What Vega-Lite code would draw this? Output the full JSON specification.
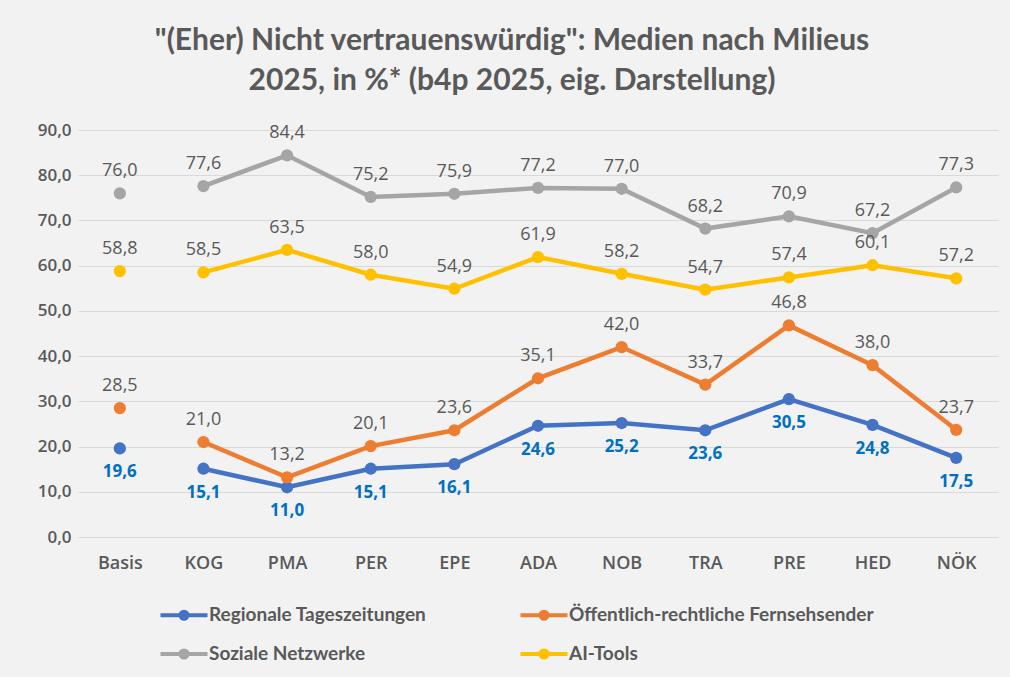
{
  "$schema": "https://vega.github.io/schema/vega-lite/v6.json",
  "width": 920,
  "height": 407,
  "autosize": {"type": "none"},
  "padding": {"left": 78, "top": 130, "right": 12, "bottom": 140},
  "background": "#F2F2F2",
  "title": {
    "text": ["\"(Eher) Nicht vertrauenswürdig\": Medien nach Milieus", "2025, in %* (b4p 2025, eig. Darstellung)"],
    "font": "Lato",
    "fontSize": 30,
    "fontWeight": "bold",
    "color": "#595959",
    "lineHeight": 40,
    "anchor": "middle",
    "frame": "group",
    "dx": -26,
    "offset": 25
  },
  "config": {
    "locale": {"number": {"decimal": ",", "thousands": ".", "grouping": [3], "currency": ["", " €"]}},
    "view": {"stroke": null},
    "axis": {"grid": true, "gridColor": "#D9D9D9", "gridWidth": 1, "domain": false, "ticks": false, "labelColor": "#595959", "labelFont": "Open Sans", "labelFontWeight": 600, "title": null}
  },
  "data": {
    "values": [
      {"m": "Basis", "s": "Regionale Tageszeitungen", "v": 19.6},
      {"m": "KOG", "s": "Regionale Tageszeitungen", "v": 15.1},
      {"m": "PMA", "s": "Regionale Tageszeitungen", "v": 11.0},
      {"m": "PER", "s": "Regionale Tageszeitungen", "v": 15.1},
      {"m": "EPE", "s": "Regionale Tageszeitungen", "v": 16.1},
      {"m": "ADA", "s": "Regionale Tageszeitungen", "v": 24.6},
      {"m": "NOB", "s": "Regionale Tageszeitungen", "v": 25.2},
      {"m": "TRA", "s": "Regionale Tageszeitungen", "v": 23.6},
      {"m": "PRE", "s": "Regionale Tageszeitungen", "v": 30.5},
      {"m": "HED", "s": "Regionale Tageszeitungen", "v": 24.8},
      {"m": "NÖK", "s": "Regionale Tageszeitungen", "v": 17.5},
      {"m": "Basis", "s": "Öffentlich-rechtliche Fernsehsender", "v": 28.5},
      {"m": "KOG", "s": "Öffentlich-rechtliche Fernsehsender", "v": 21.0},
      {"m": "PMA", "s": "Öffentlich-rechtliche Fernsehsender", "v": 13.2},
      {"m": "PER", "s": "Öffentlich-rechtliche Fernsehsender", "v": 20.1},
      {"m": "EPE", "s": "Öffentlich-rechtliche Fernsehsender", "v": 23.6},
      {"m": "ADA", "s": "Öffentlich-rechtliche Fernsehsender", "v": 35.1},
      {"m": "NOB", "s": "Öffentlich-rechtliche Fernsehsender", "v": 42.0},
      {"m": "TRA", "s": "Öffentlich-rechtliche Fernsehsender", "v": 33.7},
      {"m": "PRE", "s": "Öffentlich-rechtliche Fernsehsender", "v": 46.8},
      {"m": "HED", "s": "Öffentlich-rechtliche Fernsehsender", "v": 38.0},
      {"m": "NÖK", "s": "Öffentlich-rechtliche Fernsehsender", "v": 23.7},
      {"m": "Basis", "s": "Soziale Netzwerke", "v": 76.0},
      {"m": "KOG", "s": "Soziale Netzwerke", "v": 77.6},
      {"m": "PMA", "s": "Soziale Netzwerke", "v": 84.4},
      {"m": "PER", "s": "Soziale Netzwerke", "v": 75.2},
      {"m": "EPE", "s": "Soziale Netzwerke", "v": 75.9},
      {"m": "ADA", "s": "Soziale Netzwerke", "v": 77.2},
      {"m": "NOB", "s": "Soziale Netzwerke", "v": 77.0},
      {"m": "TRA", "s": "Soziale Netzwerke", "v": 68.2},
      {"m": "PRE", "s": "Soziale Netzwerke", "v": 70.9},
      {"m": "HED", "s": "Soziale Netzwerke", "v": 67.2},
      {"m": "NÖK", "s": "Soziale Netzwerke", "v": 77.3},
      {"m": "Basis", "s": "AI-Tools", "v": 58.8},
      {"m": "KOG", "s": "AI-Tools", "v": 58.5},
      {"m": "PMA", "s": "AI-Tools", "v": 63.5},
      {"m": "PER", "s": "AI-Tools", "v": 58.0},
      {"m": "EPE", "s": "AI-Tools", "v": 54.9},
      {"m": "ADA", "s": "AI-Tools", "v": 61.9},
      {"m": "NOB", "s": "AI-Tools", "v": 58.2},
      {"m": "TRA", "s": "AI-Tools", "v": 54.7},
      {"m": "PRE", "s": "AI-Tools", "v": 57.4},
      {"m": "HED", "s": "AI-Tools", "v": 60.1},
      {"m": "NÖK", "s": "AI-Tools", "v": 57.2}
    ]
  },
  "encoding": {
    "x": {"field": "m", "type": "nominal", "sort": ["Basis", "KOG", "PMA", "PER", "EPE", "ADA", "NOB", "TRA", "PRE", "HED", "NÖK"],
          "scale": {"type": "point", "padding": 0.5},
          "axis": {"grid": false, "labelAngle": 0, "labelFontSize": 18, "labelPadding": 17}},
    "y": {"field": "v", "type": "quantitative", "scale": {"domain": [0, 90]},
          "axis": {"values": [0, 10, 20, 30, 40, 50, 60, 70, 80, 90], "format": ".1f", "labelFontSize": 17, "labelPadding": 7}}
  },
  "layer": [
    {
      "transform": [{"filter": "datum.m !== 'Basis'"}],
      "mark": {"type": "line", "strokeWidth": 4.5},
      "encoding": {
        "color": {"field": "s", "type": "nominal",
          "scale": {"domain": ["Regionale Tageszeitungen", "Öffentlich-rechtliche Fernsehsender", "Soziale Netzwerke", "AI-Tools"],
                    "range": ["#4472C4", "#ED7D31", "#A5A5A5", "#FFC000"]},
          "legend": {
            "title": null, "orient": "none", "legendX": 92, "legendY": 471, "direction": "horizontal", "columns": 2,
            "symbolType": "M-2,0L2,0M-0.3,0A0.3,0.3 0 1,0 0.3,0A0.3,0.3 0 1,0 -0.3,0",
            "symbolSize": 552, "symbolStrokeWidth": 4, "symbolOpacity": 1,
            "labelFont": "Lato", "labelFontSize": 19, "labelFontWeight": "bold", "labelColor": "#595959", "labelOffset": 11,
            "labelLimit": 400, "columnPadding": 85, "rowPadding": 13, "gridAlign": "each"
          }
        }
      }
    },
    {
      "mark": {"type": "point", "filled": true, "opacity": 1, "size": 150},
      "encoding": {"color": {"field": "s", "type": "nominal"}}
    },
    {
      "transform": [{"filter": "datum.s !== 'Regionale Tageszeitungen'"}],
      "mark": {"type": "text", "dy": -22, "font": "Open Sans", "fontSize": 18},
      "encoding": {"text": {"field": "v", "type": "quantitative", "format": ".1f"}, "color": {"value": "#595959"}}
    },
    {
      "transform": [{"filter": "datum.s === 'Regionale Tageszeitungen'"}],
      "mark": {"type": "text", "dy": 24, "font": "Open Sans", "fontSize": 17, "fontWeight": "bold"},
      "encoding": {"text": {"field": "v", "type": "quantitative", "format": ".1f"}, "color": {"value": "#0070C0"}}
    }
  ]
}
